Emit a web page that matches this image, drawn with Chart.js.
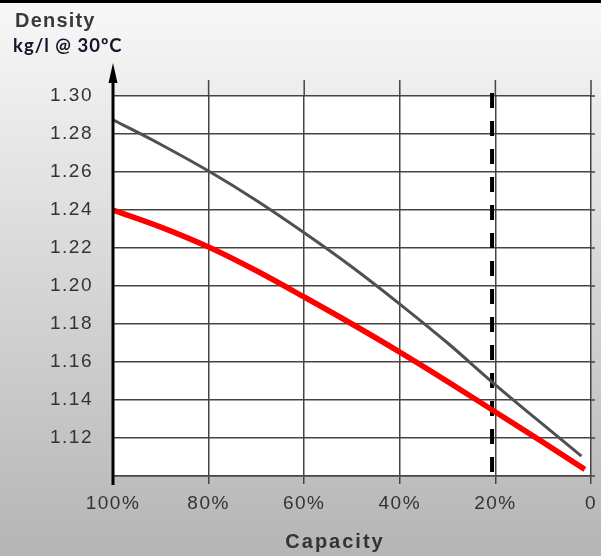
<!DOCTYPE html>
<html>
<head>
<meta charset="utf-8">
<script src="https://cdn.jsdelivr.net/npm/chart.js@4"></script>
<style>
  html, body { margin: 0; padding: 0; }
  body {
    width: 601px;
    height: 556px;
    background: linear-gradient(#000 0px, #000 3px, #f8f8f8 3px, #b5b5b5 100%);
  }
  canvas { display: block; }
</style>
</head>
<body>
<canvas id="densityChart" width="601" height="556"></canvas>
<script>
// Capacity (%) ticks and density ticks
const capacityTicks = [100, 80, 60, 40, 20, 0];
const densityTicks = [1.30, 1.28, 1.26, 1.24, 1.22, 1.20, 1.18, 1.16, 1.14, 1.12];

// grey curve
const upperCapacity = [100, 90, 80, 70, 60, 50, 40, 30, 20, 10, 2];
const upperDensity = [1.2875, 1.2745, 1.2605, 1.2450, 1.2280, 1.2100, 1.1905, 1.1700, 1.1480, 1.1270, 1.1105];

// red curve
const lowerCapacity = [100, 90, 80, 70, 60, 50, 40, 30, 20, 10, 1.3];
const lowerDensity = [1.2400, 1.2310, 1.2205, 1.2080, 1.1942, 1.1800, 1.1652, 1.1497, 1.1337, 1.1177, 1.1035];

// dashed marker
const cutoffCapacity = 20.7;
const cutoffDensity = [1.3016, 1.10];

const textSpacing = '1.5px';
const gridColor = '#444';

function toPoints(xs, ys) {
    return xs.map((x, i) => ({ x: x, y: ys[i] }));
}

// white plot area, grid extensions, arrow axis and free text
const decorPlugin = {
    id: 'decor',
    beforeLayout(chart) {
        chart.ctx.letterSpacing = textSpacing;
    },
    beforeDraw(chart) {
        const ctx = chart.ctx;
        const a = chart.chartArea;
        ctx.letterSpacing = textSpacing;
        ctx.save();
        ctx.fillStyle = '#fff';
        ctx.fillRect(a.left, a.top, a.right - a.left, a.bottom - a.top);
        ctx.restore();
    },
    beforeDatasetsDraw(chart) {
        const ctx = chart.ctx;
        const a = chart.chartArea;
        const xs = chart.scales.x;
        const ys = chart.scales.y;
        ctx.save();
        ctx.strokeStyle = gridColor;
        ctx.lineWidth = 1.5;
        // vertical lines poke out above the plot
        capacityTicks.forEach(v => {
            const px = xs.getPixelForValue(v);
            ctx.beginPath();
            ctx.moveTo(px, a.top - 16);
            ctx.lineTo(px, a.top);
            ctx.stroke();
        });
        // horizontal lines poke out on the right
        densityTicks.concat([1.10]).forEach(v => {
            const py = ys.getPixelForValue(v);
            ctx.beginPath();
            ctx.moveTo(a.right, py);
            ctx.lineTo(a.right + 4, py);
            ctx.stroke();
        });
        ctx.restore();
    },
    afterDraw(chart) {
        const ctx = chart.ctx;
        const a = chart.chartArea;
        ctx.save();
        // y axis with arrow
        ctx.strokeStyle = '#000';
        ctx.fillStyle = '#000';
        ctx.lineWidth = 3;
        ctx.beginPath();
        ctx.moveTo(a.left, a.bottom + 9);
        ctx.lineTo(a.left, a.top - 20);
        ctx.stroke();
        ctx.beginPath();
        ctx.moveTo(a.left, a.top - 33);
        ctx.lineTo(a.left + 4.5, a.top - 13);
        ctx.lineTo(a.left - 4.5, a.top - 13);
        ctx.closePath();
        ctx.fill();

        // titles
        ctx.letterSpacing = '1.2px';
        ctx.textBaseline = 'alphabetic';
        ctx.textAlign = 'left';
        ctx.fillStyle = '#3a3a3a';
        ctx.font = 'bold 20px "Liberation Sans", Arial, sans-serif';
        ctx.fillText('Density', 15, 27);
        ctx.fillStyle = '#15152a';
        ctx.font = 'bold 18.5px Lato, "Open Sans", sans-serif';
        ctx.letterSpacing = '1px';
        ctx.fillText('kg/l @ 30ºC', 13, 52);

        ctx.fillStyle = '#333';
        ctx.letterSpacing = '2px';
        ctx.font = 'bold 20px "Liberation Sans", Arial, sans-serif';
        ctx.textAlign = 'center';
        ctx.fillText('Capacity', 335, 548);
        ctx.restore();
    }
};

document.addEventListener('DOMContentLoaded', function() {
    const ctx = document.getElementById('densityChart');

    new Chart(ctx, {
        type: 'line',
        data: {
            datasets: [{
                label: 'Discharged',
                data: toPoints(lowerCapacity, lowerDensity),
                borderColor: '#ff0000',
                borderWidth: 5.5,
                pointRadius: 0,
                fill: false,
                cubicInterpolationMode: 'monotone'
            }, {
                label: 'Charged',
                data: toPoints(upperCapacity, upperDensity),
                borderColor: '#505050',
                borderWidth: 3,
                pointRadius: 0,
                fill: false,
                cubicInterpolationMode: 'monotone'
            }, {
                label: 'Limit',
                data: cutoffDensity.map(y => ({ x: cutoffCapacity, y: y })),
                borderColor: '#000',
                borderWidth: 4,
                borderDash: [15, 13],
                borderCapStyle: 'butt',
                pointRadius: 0,
                fill: false,
                clip: false
            }]
        },
        options: {
            responsive: false,
            animation: false,
            devicePixelRatio: 1,
            layout: {
                padding: { top: 96, right: 10, bottom: 0, left: 0 }
            },
            plugins: {
                legend: { display: false },
                tooltip: { enabled: false }
            },
            scales: {
                x: {
                    type: 'linear',
                    reverse: true,
                    min: 0,
                    max: 100,
                    afterBuildTicks: scale => {
                        scale.ticks = capacityTicks.map(v => ({ value: v }));
                    },
                    afterFit: scale => {
                        scale.height = 80;
                        scale.paddingLeft = 0;
                        scale.paddingRight = 0;
                    },
                    ticks: {
                        callback: v => v === 0 ? '0' : v + '%',
                        color: '#333',
                        padding: 8,
                        maxRotation: 0,
                        font: { family: '"Liberation Sans", Arial, sans-serif', size: 19 }
                    },
                    grid: {
                        color: gridColor,
                        lineWidth: 1.5,
                        drawTicks: true,
                        tickLength: 8
                    },
                    border: { display: true, color: gridColor, width: 1.5 }
                },
                y: {
                    min: 1.10,
                    max: 1.30,
                    afterBuildTicks: scale => {
                        scale.ticks = densityTicks.concat([1.10]).map(v => ({ value: v }));
                    },
                    afterFit: scale => { scale.width = 113; },
                    ticks: {
                        callback: v => v < 1.11 ? '' : v.toFixed(2),
                        color: '#333',
                        padding: 20,
                        font: { family: '"Liberation Sans", Arial, sans-serif', size: 19 }
                    },
                    grid: {
                        color: gridColor,
                        lineWidth: 1.5,
                        drawTicks: false
                    },
                    border: { display: false }
                }
            }
        },
        plugins: [decorPlugin]
    });
});
</script>
</body>
</html>
